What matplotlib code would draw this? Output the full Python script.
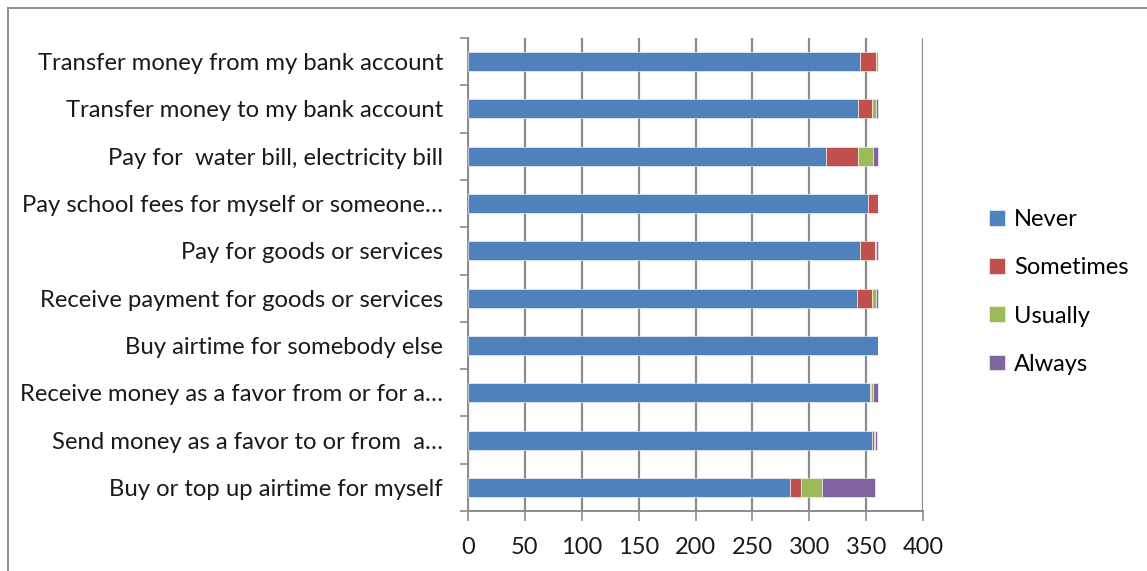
import numpy as np
import matplotlib
matplotlib.use("Agg")
import matplotlib.pyplot as plt
from matplotlib.patches import Rectangle

# categories listed bottom to top
labels = [
    "Buy or top up airtime for myself",
    "Send money as a favor to or from  a…",
    "Receive money as a favor from or for a…",
    "Buy airtime for somebody else",
    "Receive payment for goods or services",
    "Pay for goods or services",
    "Pay school fees for myself or someone…",
    "Pay for  water bill, electricity bill",
    "Transfer money to my bank account",
    "Transfer money from my bank account",
]
never     = [283, 355, 353, 360, 342, 345, 352, 315, 343, 345]
sometimes = [10, 2, 1, 0, 13, 13, 8, 28, 12, 14]
usually   = [18, 1, 2, 0, 4, 1, 0, 13, 4, 1]
always    = [47, 2, 4, 0, 1, 1, 0, 4, 1, 0]

series = [("Never", never, "#4F81BD"),
          ("Sometimes", sometimes, "#C0504D"),
          ("Usually", usually, "#9BBB59"),
          ("Always", always, "#8064A2")]

plt.rcParams["font.family"] = ["Lato", "DejaVu Sans"]
W, H = 1147, 571
fig = plt.figure(figsize=(W / 100, H / 100), dpi=100)
ax = fig.add_axes([468 / W, 1 - 511 / H, (923 - 468) / W, (511 - 38) / H])

y = np.arange(len(labels))
left = np.zeros(len(labels))
handles = []
for name, vals, col in series:
    vals = np.array(vals, dtype=float)
    b = ax.barh(y, vals, left=left, height=0.4, color=col, label=name,
                edgecolor="white", linewidth=0.4, zorder=3)
    handles.append(b)
    left += vals

grid_col = "#8c8c8c"
txt_col = "#1a1a1a"
ax.set_xlim(0, 400)
ax.set_ylim(-0.5, len(labels) - 0.5)
ax.set_xticks(np.arange(0, 401, 50))
ax.xaxis.grid(True, color=grid_col, linewidth=1.6, zorder=0)
ax.tick_params(axis="x", direction="out", length=7, width=1.2, color=grid_col,
               labelsize=17, pad=12, labelcolor=txt_col)

ax.set_yticks(y)
ax.set_yticklabels(labels)
ax.set_yticks(np.arange(-0.5, len(labels)), minor=True)
ax.tick_params(axis="y", which="major", length=0, pad=18, labelsize=17.2,
               labelcolor=txt_col)
ax.tick_params(axis="y", which="minor", direction="out", length=6, width=1.2,
               color=grid_col)

for s in ["top", "right"]:
    ax.spines[s].set_visible(False)
for s in ["left", "bottom"]:
    ax.spines[s].set_color(grid_col)
    ax.spines[s].set_linewidth(1.4)

fig.legend(handles=handles, loc="center left",
           bbox_to_anchor=(968 / W, 1 - 292 / H), frameon=False,
           fontsize=17, handlelength=0.65, handleheight=0.65,
           handletextpad=0.4, labelspacing=1.15)

# outer chart border
fig.patches.append(Rectangle((8 / W, -0.1), 1.2, 1 - 8 / H + 0.1,
                             transform=fig.transFigure, fill=False,
                             edgecolor="#8c8c8c", linewidth=1.4))

fig.savefig("out.png", dpi=100, facecolor="white")
